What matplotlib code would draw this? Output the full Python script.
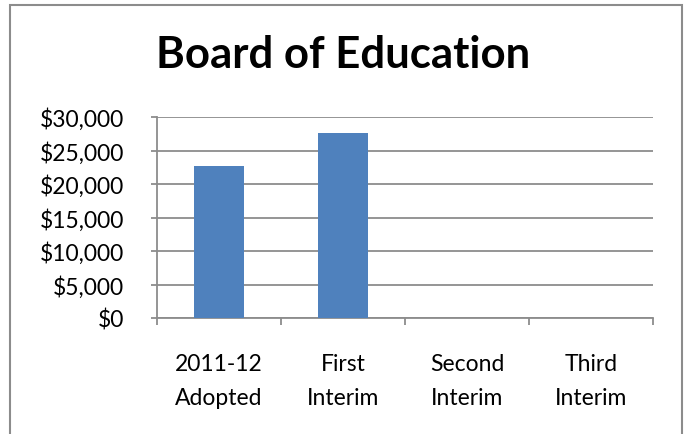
import matplotlib
matplotlib.use("Agg")
import matplotlib.pyplot as plt
from matplotlib.patches import Rectangle
from matplotlib.ticker import FuncFormatter

# data
categories = ["2011-12\nAdopted", "First\nInterim", "Second\nInterim", "Third\nInterim"]
values = [22650, 27620, 0, 0]
yticks = [0, 5000, 10000, 15000, 20000, 25000, 30000]

W, H = 684, 435
fig = plt.figure(figsize=(W / 100, H / 100), dpi=100)
plt.rcParams['font.family'] = ['Lato', 'DejaVu Sans']

# outer chart border
fig.patches.append(Rectangle((10 / W, -0.01), 672 / W, 1 - 6 / H + 0.01,
                             transform=fig.transFigure, fill=False,
                             edgecolor="#8c8c8c", linewidth=1.5))

ax = fig.add_axes([157 / W, 1 - 319 / H, (653 - 157) / W, (319 - 118) / H])

x = list(range(len(categories)))
ax.bar(x, values, width=0.4, color="#4f81bd", zorder=3)

ax.set_xlim(-0.5, len(categories) - 0.5)
ax.set_ylim(0, 30000)
ax.set_yticks(yticks)
ax.yaxis.set_major_formatter(FuncFormatter(lambda v, p: "${:,.0f}".format(v)))
ax.yaxis.grid(True, color="#8c8c8c", linewidth=1.3, zorder=0)

# category ticks sit between groups
ax.set_xticks([i - 0.5 for i in range(len(categories) + 1)])
ax.set_xticklabels([])
ax.set_xticks(x, minor=True)
ax.set_xticklabels(categories, minor=True, fontsize=16.5, linespacing=1.8)
ax.tick_params(axis="x", which="minor", length=0, pad=25)
ax.tick_params(axis="x", which="major", length=5, color="#8c8c8c", width=1.3)
ax.tick_params(axis="y", length=4.5, color="#8c8c8c", width=1.3, labelsize=16.5, pad=19)

for s in ["top", "right"]:
    ax.spines[s].set_visible(False)
for s in ["left", "bottom"]:
    ax.spines[s].set_color("#8c8c8c")
    ax.spines[s].set_linewidth(1.3)

fig.text(343 / W, 1 - 55 / H, "Board of Education", ha="center", va="center",
         fontsize=31.5, fontweight="bold")

fig.savefig("out.png", dpi=100)
